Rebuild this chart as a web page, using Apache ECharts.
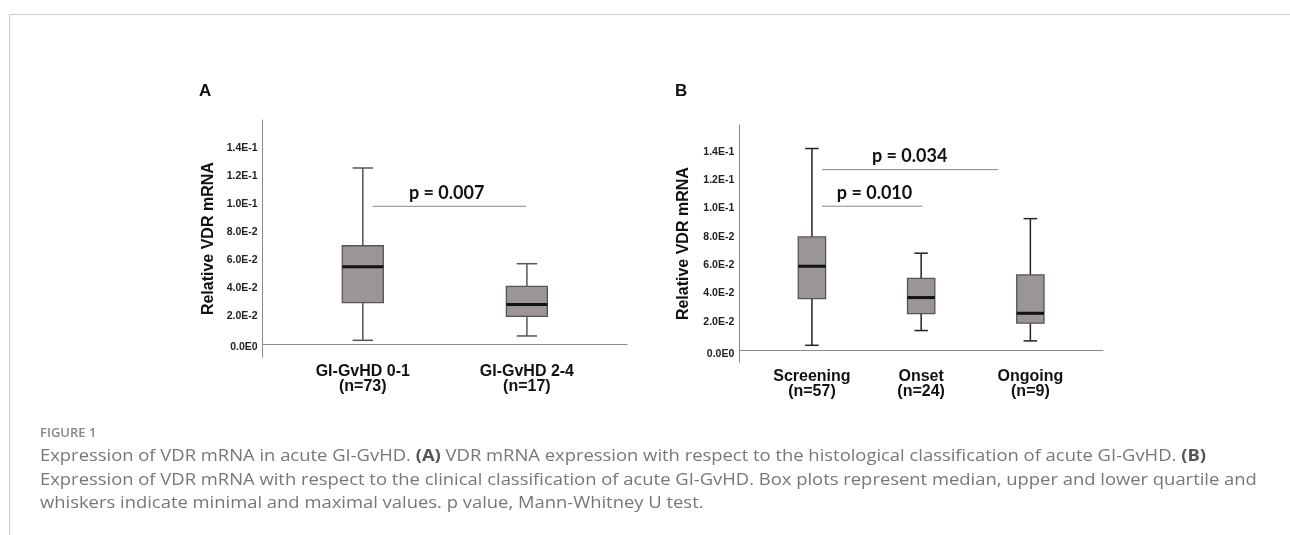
<!DOCTYPE html>
<html>
<head>
<meta charset="utf-8">
<script src="https://cdn.jsdelivr.net/npm/echarts@6/dist/echarts.min.js"></script>
<style>
  html, body { margin: 0; padding: 0; background: #fff; }
  #chart { width: 1290px; height: 535px; }
</style>
</head>
<body>
<div id="chart"></div>
<script>
// panel A: histological grade
var catsA = ['GI-GvHD 0-1\n(n=73)', 'GI-GvHD 2-4\n(n=17)'];
// [x, min, q1, median, q3, max]
var boxA = [
  [1, 0.0027, 0.0295, 0.0552, 0.0701, 0.1255],
  [2, 0.0058, 0.0198, 0.0283, 0.0412, 0.0573]
];
// [x from, x to, y, text x, text]
var pA = [[1.06, 1.995, 0.0982, 1.511, 'p = 0.007']];

// panel B: clinical phase
var catsB = ['Screening\n(n=57)', 'Onset\n(n=24)', 'Ongoing\n(n=9)'];
var boxB = [
  [1, 0.0035, 0.0365, 0.0593, 0.0800, 0.1424],
  [2, 0.0139, 0.0259, 0.0372, 0.0508, 0.0685],
  [3, 0.0066, 0.0191, 0.0261, 0.0532, 0.0929]
];
var pB = [
  [1.092, 2.703, 0.1275, 1.895, 'p = 0.034'],
  [1.092, 2.010, 0.1017, 1.573, 'p = 0.010']
];

var yTicks = [0, 0.02, 0.04, 0.06, 0.08, 0.10, 0.12, 0.14];
var yTickLabels = ['0.0E0', '2.0E-2', '4.0E-2', '6.0E-2', '8.0E-2', '1.0E-1', '1.2E-1', '1.4E-1'];

var chart = echarts.init(document.getElementById('chart'));

function tickName(v) {
  for (var i = 0; i < yTicks.length; i++) {
    if (Math.abs(yTicks[i] - v) < 1e-9) return i === 0 ? '{z|' + yTickLabels[i] + '}' : yTickLabels[i];
  }
  return '';
}

function makeX(idx, min, max, cats) {
  var vals = cats.map(function (c, i) { return i + 1; });
  return {
    type: 'value', gridIndex: idx, min: min, max: max,
    axisLine: { show: true, lineStyle: { color: '#8a8a8a', width: 1 } },
    axisTick: { show: false },
    splitLine: { show: false },
    axisLabel: {
      customValues: vals,
      margin: 7,
      color: '#111',
      fontFamily: 'Liberation Sans, Arial',
      fontWeight: 'bold',
      fontSize: 16,
      lineHeight: 15,
      formatter: function (v) { return cats[Math.round(v) - 1] || ''; }
    }
  };
}

function makeY(idx, min, max, gap) {
  return {
    type: 'value', gridIndex: idx, min: min, max: max,
    name: 'Relative VDR mRNA',
    nameLocation: 'middle',
    nameRotate: 90,
    nameGap: gap,
    nameTextStyle: { color: '#111', fontFamily: 'Liberation Sans, Arial', fontWeight: 'bold', fontSize: 16 },
    axisLine: { show: true, lineStyle: { color: '#8a8a8a', width: 1 } },
    axisTick: { show: false },
    splitLine: { show: false },
    axisLabel: {
      customValues: yTicks,
      margin: 5,
      color: '#222',
      fontFamily: 'Liberation Sans, Arial',
      fontWeight: 'bold',
      fontSize: 10.5,
      formatter: tickName,
      rich: { z: { padding: [7, 0, 0, 0], color: '#222', fontFamily: 'Liberation Sans, Arial', fontWeight: 'bold', fontSize: 10.5 } }
    }
  };
}

function boxSeries(idx, data, whiskerColor) {
  return {
    type: 'custom', xAxisIndex: idx, yAxisIndex: idx,
    data: data,
    renderItem: function (params, api) {
      var x = api.value(0);
      var lo = api.coord([x, api.value(1)]);
      var q1 = api.coord([x, api.value(2)]);
      var md = api.coord([x, api.value(3)]);
      var q3 = api.coord([x, api.value(4)]);
      var hi = api.coord([x, api.value(5)]);
      var unit = api.size([1, 0])[0];
      var hb = unit * 0.125;
      var hc = unit * 0.062;
      var cx = lo[0];
      var wStyle = { stroke: whiskerColor, lineWidth: 1.5 };
      return {
        type: 'group',
        children: [
          { type: 'line', shape: { x1: cx, y1: hi[1], x2: cx, y2: q3[1] }, style: wStyle },
          { type: 'line', shape: { x1: cx, y1: q1[1], x2: cx, y2: lo[1] }, style: wStyle },
          { type: 'line', shape: { x1: cx - hc, y1: hi[1], x2: cx + hc, y2: hi[1] }, style: wStyle },
          { type: 'line', shape: { x1: cx - hc, y1: lo[1], x2: cx + hc, y2: lo[1] }, style: wStyle },
          { type: 'rect', shape: { x: cx - hb, y: q3[1], width: hb * 2, height: q1[1] - q3[1] },
            style: { fill: '#9b9595', stroke: '#555', lineWidth: 1.3 } },
          { type: 'line', shape: { x1: cx - hb, y1: md[1], x2: cx + hb, y2: md[1] },
            style: { stroke: '#111', lineWidth: 3 } }
        ]
      };
    }
  };
}

// significance bar with its p value above
function pSeries(idx, data) {
  return {
    type: 'custom', xAxisIndex: idx, yAxisIndex: idx,
    data: data,
    renderItem: function (params, api) {
      var a = api.coord([api.value(0), api.value(2)]);
      var b = api.coord([api.value(1), api.value(2)]);
      var t = api.coord([api.value(3), api.value(2)]);
      return {
        type: 'group',
        children: [
          { type: 'line', shape: { x1: a[0], y1: a[1], x2: b[0], y2: b[1] }, style: { stroke: '#8a8a8a', lineWidth: 1 } },
          { type: 'text', x: t[0], y: t[1] - 13,
            style: { text: data[params.dataIndex][4], font: 'bold 18px Lato', fill: '#111', align: 'center', verticalAlign: 'middle' } }
        ]
      };
    }
  };
}

var capFont = '16px "Open Sans"';
var capStretch = 1.15;

chart.setOption({
  backgroundColor: '#fff',
  animation: false,
  grid: [
    { left: 262.7, top: 120, width: 364.3, height: 237.3 },
    { left: 739.3, top: 125, width: 363.7, height: 237.3 }
  ],
  xAxis: [makeX(0, 0.39, 2.61, catsA), makeX(1, 0.335, 3.665, catsB)],
  yAxis: [makeY(0, -0.0094, 0.1597, 46), makeY(1, -0.0085, 0.159, 48)],
  series: [
    boxSeries(0, boxA, '#555'),
    boxSeries(1, boxB, '#222'),
    pSeries(0, pA),
    pSeries(1, pB)
  ],
  graphic: [
    { type: 'line', shape: { x1: 9.5, y1: 14.5, x2: 1290, y2: 14.5 }, style: { stroke: '#cccccc', lineWidth: 1 } },
    { type: 'line', shape: { x1: 9.5, y1: 14.5, x2: 9.5, y2: 535 }, style: { stroke: '#cccccc', lineWidth: 1 } },
    { type: 'text', x: 199, y: 91, style: { text: 'A', font: 'bold 17px "Liberation Sans", Arial', fill: '#111', verticalAlign: 'middle' } },
    { type: 'text', x: 675, y: 91, style: { text: 'B', font: 'bold 17px "Liberation Sans", Arial', fill: '#111', verticalAlign: 'middle' } },
    { type: 'text', x: 40, y: 433, style: { text: 'FIGURE 1', font: '600 13px "Open Sans"', fill: '#888', verticalAlign: 'middle' } },
    { type: 'text', x: 40, y: 456, scaleX: capStretch, style: {
        text: 'Expression of VDR mRNA in acute GI-GvHD. {b|(A)} VDR mRNA expression with respect to the histological classification of acute GI-GvHD. {b|(B)}',
        font: capFont, fill: '#777', verticalAlign: 'middle',
        rich: { b: { font: 'bold 16px "Open Sans"', fill: '#555' } } } },
    { type: 'text', x: 40, y: 480, scaleX: capStretch, style: {
        text: 'Expression of VDR mRNA with respect to the clinical classification of acute GI-GvHD. Box plots represent median, upper and lower quartile and',
        font: capFont, fill: '#777', verticalAlign: 'middle' } },
    { type: 'text', x: 40, y: 503, scaleX: capStretch, style: {
        text: 'whiskers indicate minimal and maximal values. p value, Mann-Whitney U test.',
        font: capFont, fill: '#777', verticalAlign: 'middle' } }
  ]
});
</script>
</body>
</html>
